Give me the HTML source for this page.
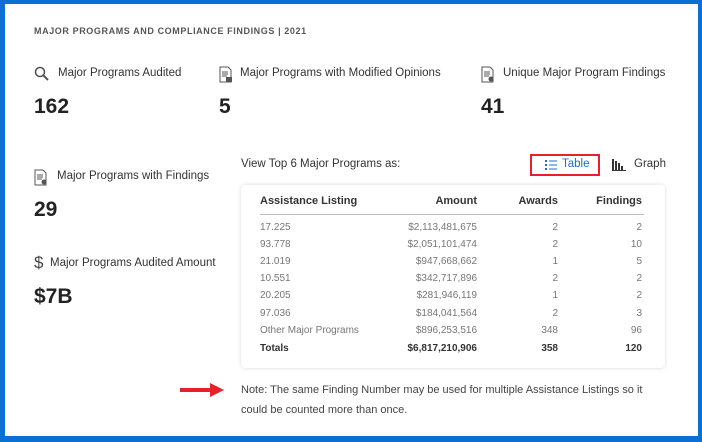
<!DOCTYPE html>
<html><head><meta charset="utf-8"><style>
*{margin:0;padding:0;box-sizing:border-box}
body{width:702px;height:442px;background:#0b6fd3;position:relative;overflow:hidden;font-family:"Liberation Sans Narrow","Liberation Sans",sans-serif;color:#333}
#card{position:absolute;left:5px;top:4px;width:693px;height:432px;background:#fff}
.a{position:absolute;white-space:nowrap}
.lab{font-size:11.5px;color:#333}
.num{font-size:21px;font-weight:bold;color:#222}
.tb{position:absolute;left:241px;top:185px;width:424px;height:183px;border-radius:4px;box-shadow:0 0 4px rgba(0,0,0,.15)}
.r{position:absolute;font-size:10px;color:#777;white-space:nowrap}
.h{font-size:11px;font-weight:bold;color:#333}
.t{font-weight:bold;color:#333}
</style></head><body>
<div id="card"></div>
<div class="a" style="left:34px;top:26px;font-size:9px;font-weight:bold;letter-spacing:.6px;color:#555">MAJOR PROGRAMS AND COMPLIANCE FINDINGS | 2021</div>

<svg class="a" style="left:34px;top:66px" width="16" height="16"><circle cx="6" cy="6" r="4.5" fill="none" stroke="#555" stroke-width="1.6"/><line x1="9.5" y1="9.5" x2="14" y2="14" stroke="#555" stroke-width="2"/></svg>
<div class="a lab" style="left:58px;top:67px">Major Programs Audited</div>
<svg class="a" style="left:219px;top:66px" width="14" height="17"><path d="M1 1h8l3 3v12H1z" fill="#fff" stroke="#555"/><path d="M3 6h6M3 8h6M3 10h5" stroke="#555"/><rect x="7" y="11" width="6" height="5" fill="#555"/></svg>
<div class="a lab" style="left:240px;top:67px">Major Programs with Modified Opinions</div>
<svg class="a" style="left:481px;top:66px" width="14" height="17"><path d="M1 1h8l3 3v12H1z" fill="#fff" stroke="#555"/><path d="M3 6h6M3 8h6M3 10h5" stroke="#555"/><circle cx="10" cy="13" r="2.5" fill="#555"/></svg>
<div class="a lab" style="left:503px;top:67px">Unique Major Program Findings</div>

<div class="a num" style="left:34px;top:95px">162</div>
<div class="a num" style="left:219px;top:95px">5</div>
<div class="a num" style="left:481px;top:95px">41</div>

<svg class="a" style="left:34px;top:169px" width="14" height="17"><path d="M1 1h8l3 3v12H1z" fill="#fff" stroke="#555"/><path d="M3 6h6M3 8h6M3 10h5" stroke="#555"/><circle cx="10" cy="13" r="2.5" fill="#555"/></svg>
<div class="a lab" style="left:57px;top:170px">Major Programs with Findings</div>
<div class="a num" style="left:34px;top:198px">29</div>

<div class="a" style="left:34px;top:253px;font-size:17px;color:#444">$</div>
<div class="a lab" style="left:50px;top:257px">Major Programs Audited Amount</div>
<div class="a num" style="left:34px;top:285px">$7B</div>

<div class="a lab" style="left:241px;top:158px">View Top 6 Major Programs as:</div>
<div class="a" style="left:530px;top:154px;width:70px;height:22px;border:2px solid #e8202e"></div>
<svg class="a" style="left:545px;top:160px" width="12" height="10"><g fill="#1a6fd0"><rect x="0" y="0" width="2" height="2"/><rect x="0" y="4" width="2" height="2"/><rect x="0" y="8" width="2" height="2"/><rect x="4" y="0.5" width="8" height="1"/><rect x="4" y="4.5" width="8" height="1"/><rect x="4" y="8.5" width="8" height="1"/></g></svg>
<div class="a lab" style="left:562px;top:158px;color:#1a6fd0">Table</div>
<svg class="a" style="left:612px;top:159px" width="14" height="12"><g fill="#333"><rect x="0" y="0" width="2" height="12"/><rect x="3" y="2" width="2" height="10"/><rect x="6" y="4" width="2" height="8"/><rect x="9" y="7" width="2" height="5"/><rect x="0" y="11" width="14" height="1"/></g></svg>
<div class="a lab" style="left:634px;top:158px">Graph</div>

<div class="tb"></div>
<div class="r h" style="left:260px;top:195px">Assistance Listing</div>
<div class="r h" style="right:225px;top:195px">Amount</div>
<div class="r h" style="right:144px;top:195px">Awards</div>
<div class="r h" style="right:60px;top:195px">Findings</div>
<div class="a" style="left:260px;top:214px;width:384px;height:1px;background:#bbb"></div>

<div class="r" style="left:260px;top:222px">17.225</div><div class="r" style="right:225px;top:222px">$2,113,481,675</div><div class="r" style="right:144px;top:222px">2</div><div class="r" style="right:60px;top:222px">2</div>
<div class="r" style="left:260px;top:239px">93.778</div><div class="r" style="right:225px;top:239px">$2,051,101,474</div><div class="r" style="right:144px;top:239px">2</div><div class="r" style="right:60px;top:239px">10</div>
<div class="r" style="left:260px;top:256px">21.019</div><div class="r" style="right:225px;top:256px">$947,668,662</div><div class="r" style="right:144px;top:256px">1</div><div class="r" style="right:60px;top:256px">5</div>
<div class="r" style="left:260px;top:273px">10.551</div><div class="r" style="right:225px;top:273px">$342,717,896</div><div class="r" style="right:144px;top:273px">2</div><div class="r" style="right:60px;top:273px">2</div>
<div class="r" style="left:260px;top:290px">20.205</div><div class="r" style="right:225px;top:290px">$281,946,119</div><div class="r" style="right:144px;top:290px">1</div><div class="r" style="right:60px;top:290px">2</div>
<div class="r" style="left:260px;top:308px">97.036</div><div class="r" style="right:225px;top:308px">$184,041,564</div><div class="r" style="right:144px;top:308px">2</div><div class="r" style="right:60px;top:308px">3</div>
<div class="r" style="left:260px;top:325px">Other Major Programs</div><div class="r" style="right:225px;top:325px">$896,253,516</div><div class="r" style="right:144px;top:325px">348</div><div class="r" style="right:60px;top:325px">96</div>
<div class="r t" style="left:260px;top:343px">Totals</div><div class="r t" style="right:225px;top:343px">$6,817,210,906</div><div class="r t" style="right:144px;top:343px">358</div><div class="r t" style="right:60px;top:343px">120</div>

<svg class="a" style="left:180px;top:383px" width="44" height="14"><rect x="0" y="5" width="32" height="4" fill="#e8202e"/><polygon points="30,0 44,7 30,14" fill="#e8202e"/></svg>
<div class="a" style="left:241px;top:380px;font-size:11px;color:#444;line-height:20px;white-space:normal;width:420px">Note: The same Finding Number may be used for multiple Assistance Listings so it could be counted more than once.</div>
</body></html>
